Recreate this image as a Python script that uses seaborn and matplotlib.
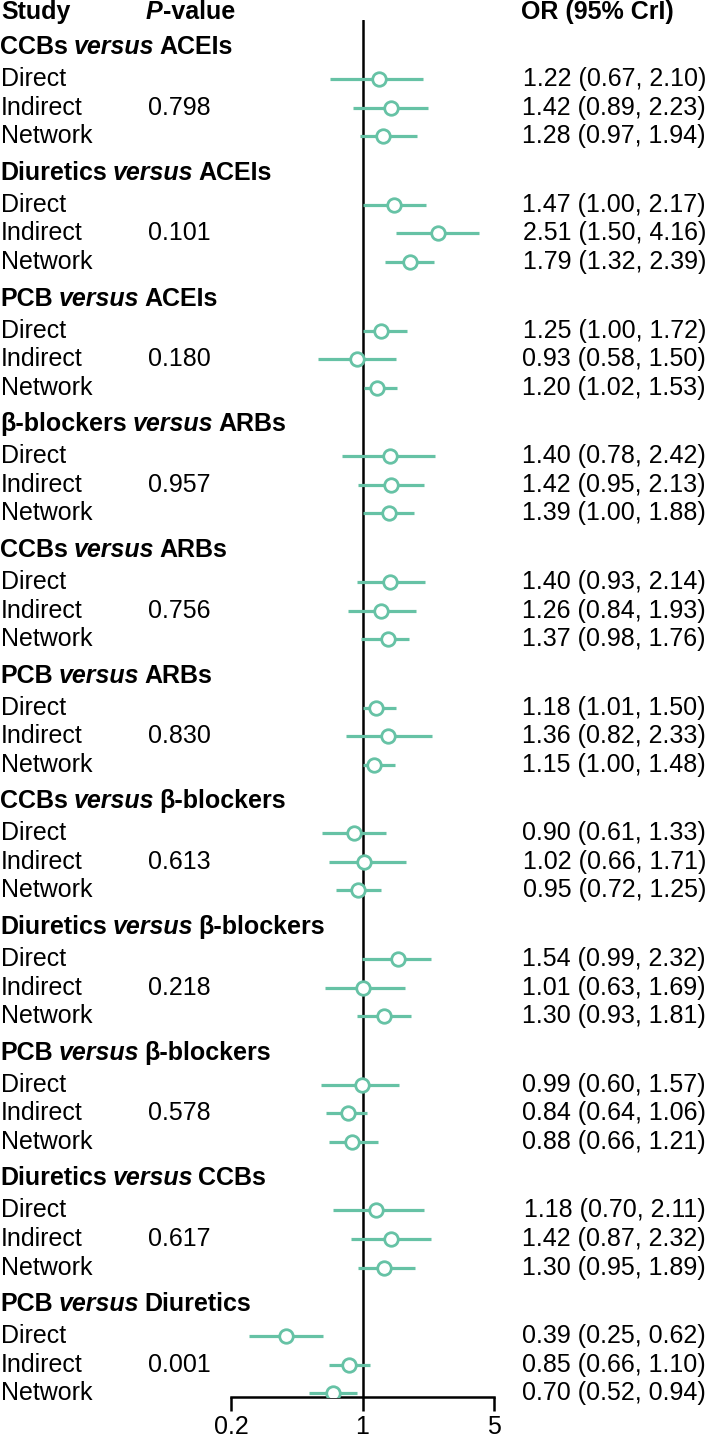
import matplotlib
matplotlib.use("Agg")
import matplotlib.pyplot as plt
import matplotlib.transforms as mtransforms
import seaborn as sns
import pandas as pd
import numpy as np

# ---------------- data ----------------
treat_a = ["CCBs", "Diuretics", "PCB", "β-blockers", "CCBs", "PCB",
           "CCBs", "Diuretics", "PCB", "Diuretics", "PCB"]
treat_b = ["ACEIs", "ACEIs", "ACEIs", "ARBs", "ARBs", "ARBs",
           "β-blockers", "β-blockers", "β-blockers", "CCBs", "Diuretics"]
p_values = ["0.798", "0.101", "0.180", "0.957", "0.756", "0.830",
            "0.613", "0.218", "0.578", "0.617", "0.001"]

direct_or = [1.22, 1.47, 1.25, 1.40, 1.40, 1.18, 0.90, 1.54, 0.99, 1.18, 0.39]
direct_lo = [0.67, 1.00, 1.00, 0.78, 0.93, 1.01, 0.61, 0.99, 0.60, 0.70, 0.25]
direct_hi = [2.10, 2.17, 1.72, 2.42, 2.14, 1.50, 1.33, 2.32, 1.57, 2.11, 0.62]

indirect_or = [1.42, 2.51, 0.93, 1.42, 1.26, 1.36, 1.02, 1.01, 0.84, 1.42, 0.85]
indirect_lo = [0.89, 1.50, 0.58, 0.95, 0.84, 0.82, 0.66, 0.63, 0.64, 0.87, 0.66]
indirect_hi = [2.23, 4.16, 1.50, 2.13, 1.93, 2.33, 1.71, 1.69, 1.06, 2.32, 1.10]

network_or = [1.28, 1.79, 1.20, 1.39, 1.37, 1.15, 0.95, 1.30, 0.88, 1.30, 0.70]
network_lo = [0.97, 1.32, 1.02, 1.00, 0.98, 1.00, 0.72, 0.93, 0.66, 0.95, 0.52]
network_hi = [1.94, 2.39, 1.53, 1.88, 1.76, 1.48, 1.25, 1.81, 1.21, 1.89, 0.94]

row_types = ["Direct", "Indirect", "Network"]
x_ticks = [0.2, 1, 5]
x_ticklabels = ["0.2", "1", "5"]

# ---------------- layout ----------------
GROUP_STEP = 4.4
TITLE_OFFSET = 1.12
rows = []
for g in range(len(treat_a)):
    base = g * GROUP_STEP
    for i, (t, m, lo, hi) in enumerate(zip(
            row_types,
            [direct_or[g], indirect_or[g], network_or[g]],
            [direct_lo[g], indirect_lo[g], network_lo[g]],
            [direct_hi[g], indirect_hi[g], network_hi[g]])):
        rows.append(dict(group=g, type=t, y=base + TITLE_OFFSET + i,
                         OR=m, lo=lo, hi=hi))
df = pd.DataFrame(rows)

sns.set_style("white")
plt.rcParams["font.family"] = ["Liberation Sans", "DejaVu Sans"]
plt.rcParams["text.color"] = "black"
plt.rcParams["xtick.color"] = "black"
plt.rcParams["xtick.labelcolor"] = "black"

W, H = 709, 1440
fig = plt.figure(figsize=(W / 100, H / 100), dpi=100)
ax_left, ax_right = 231 / W, 494 / W
ax_bottom, ax_top = (H - 1397) / H, (H - 20) / H
ax = fig.add_axes([ax_left, ax_bottom, ax_right - ax_left, ax_top - ax_bottom])

teal = sns.color_palette("Set2")[0]
FS = 18

ax.set_xscale("log")
ax.set_xlim(0.2, 5)
ax.set_ylim(47.25, -0.95)

ax.axvline(1, color="black", lw=1.8, zorder=1)
ax.hlines(df["y"], df["lo"], df["hi"], color=teal, lw=2.3, zorder=2)
sns.scatterplot(data=df, x="OR", y="y", ax=ax, marker="o", s=95,
                facecolor="white", edgecolor=teal, linewidth=2.0, zorder=3,
                legend=False)

ax.set_xticks(x_ticks)
ax.set_xticklabels(x_ticklabels, fontsize=FS)
ax.xaxis.set_minor_locator(matplotlib.ticker.NullLocator())
ax.set_yticks([])
ax.set_xlabel("")
ax.set_ylabel("")
for side in ["left", "right", "top"]:
    ax.spines[side].set_visible(False)
ax.spines["bottom"].set_linewidth(1.8)
ax.spines["bottom"].set_color("black")
ax.tick_params(axis="x", direction="out", length=10, width=1.8, color="black",
               pad=3, labelcolor="black", bottom=True)

blend = mtransforms.blended_transform_factory(fig.transFigure, ax.transData)


def styled(parts, xpix, y):
    s, w, st, gap = parts[0]
    prev = ax.text(xpix / W, y, s, transform=blend, fontsize=FS, fontweight=w,
                   fontstyle=st, va="center", ha="left", clip_on=False,
                   color="black")
    for s, w, st, gap in parts[1:]:
        prev = ax.annotate(s, xy=(1, 0), xycoords=prev, xytext=(gap, 0),
                           textcoords="offset points", va="bottom", ha="left",
                           fontsize=FS, fontweight=w, fontstyle=st,
                           annotation_clip=False, color="black")
    return prev


# header
header_y = -1.23
styled([("Study", "bold", "normal", 0)], 1, header_y)
styled([("P", "bold", "italic", 0), ("-value", "bold", "normal", 0)], 146, header_y)
styled([("OR (95% CrI)", "bold", "normal", 0)], 521, header_y)

GAP = 4.0
for g in range(len(treat_a)):
    base = g * GROUP_STEP
    styled([(treat_a[g], "bold", "normal", 0),
            ("versus", "bold", "italic", GAP),
            (treat_b[g], "bold", "normal", GAP)], 0, base)
    sub = df[df["group"] == g]
    for _, r in sub.iterrows():
        ax.text(1 / W, r["y"], r["type"], transform=blend, fontsize=FS,
                va="center", ha="left", clip_on=False, color="black")
        ax.text(706 / W, r["y"], f"{r['OR']:.2f} ({r['lo']:.2f}, {r['hi']:.2f})",
                transform=blend, fontsize=FS, va="center", ha="right",
                clip_on=False, color="black")
    ax.text(148 / W, base + TITLE_OFFSET + 1, p_values[g], transform=blend,
            fontsize=FS, va="center", ha="left", clip_on=False, color="black")

fig.savefig("out.png", dpi=100)
